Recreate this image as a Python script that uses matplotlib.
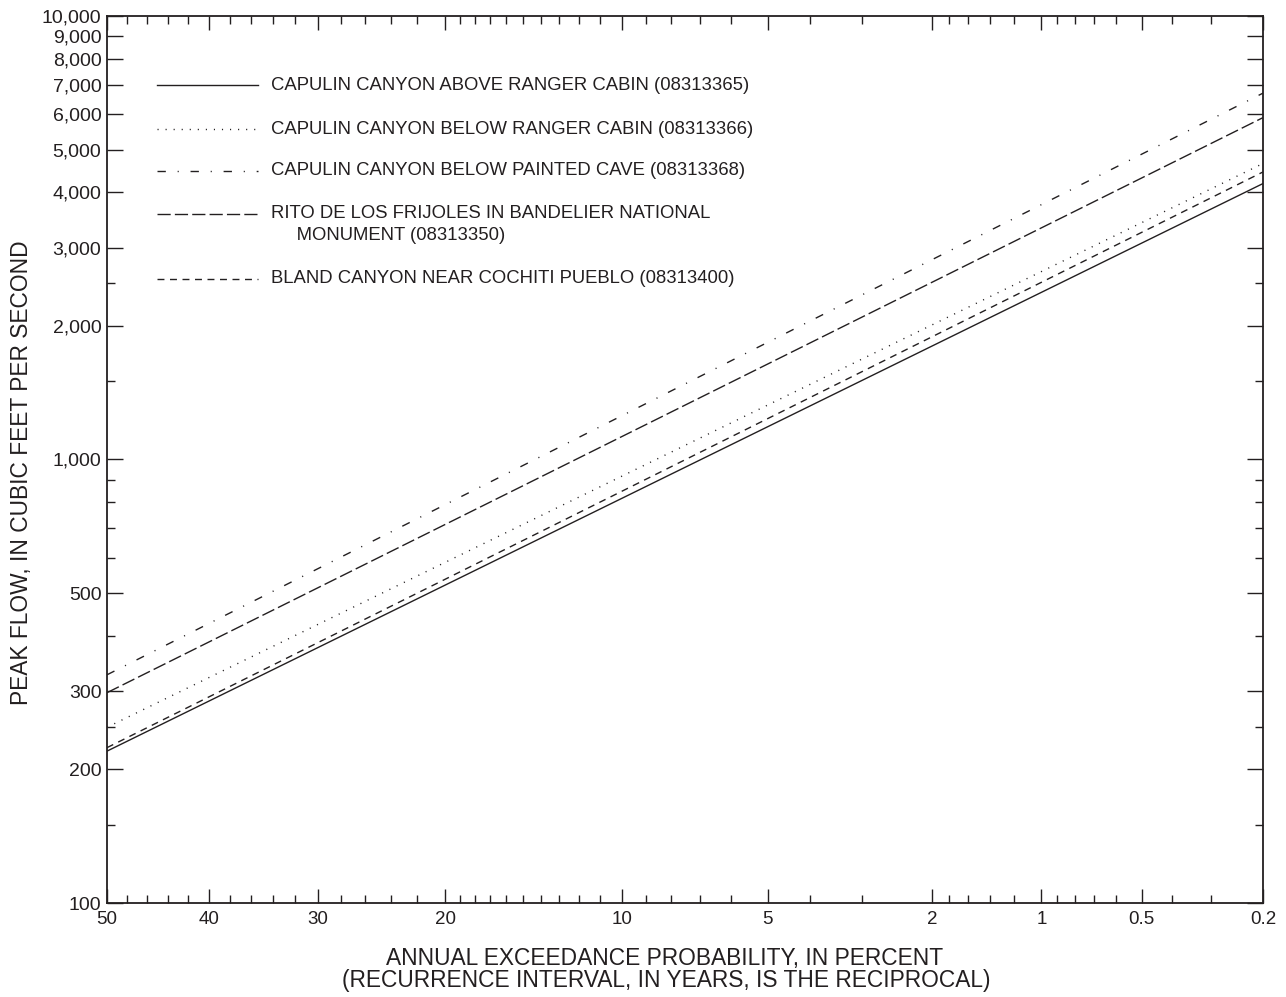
"""Peak-flow frequency curves, Capulin Canyon and nearby gages."""

from statistics import NormalDist

import matplotlib
matplotlib.use('Agg')
import matplotlib.pyplot as plt
import numpy as np

# ─── Data ─────────────────────────────────────────────────────────────────────

aep_pct = [50, 0.2]                      # annual exceedance probability, percent

q_capulin_above   = [220, 4190]          # 08313365
q_capulin_below   = [249, 4650]          # 08313366
q_painted_cave    = [327, 6700]          # 08313368
q_rito_frijoles   = [298, 5900]          # 08313350
q_bland_canyon    = [224, 4450]          # 08313400

names = [
    'CAPULIN CANYON ABOVE RANGER CABIN (08313365)',
    'CAPULIN CANYON BELOW RANGER CABIN (08313366)',
    'CAPULIN CANYON BELOW PAINTED CAVE (08313368)',
    'RITO DE LOS FRIJOLES IN BANDELIER NATIONAL\n     MONUMENT (08313350)',
    'BLAND CANYON NEAR COCHITI PUEBLO (08313400)',
]

x_major = [50, 40, 30, 20, 10, 5, 2, 1, 0.5, 0.2]
x_major_lbl = ['50', '40', '30', '20', '10', '5', '2', '1', '0.5', '0.2']
x_minor = [48, 46, 44, 42, 38, 36, 34, 32, 28, 26, 24, 22,
           19, 18, 17, 16, 15, 14, 13, 12, 11, 9, 8, 7, 6, 4, 3,
           1.8, 1.6, 1.4, 1.2, 0.9, 0.8, 0.7, 0.6, 0.4, 0.3]

y_major = [100, 200, 300, 500, 1000, 2000, 3000, 4000, 5000,
           6000, 7000, 8000, 9000, 10000]
y_minor = [150, 400, 600, 700, 800, 900, 1500]
y_short = [250, 2500]

# ─── Style ────────────────────────────────────────────────────────────────────

INK = '#231f20'
plt.rcParams['font.family'] = ['Liberation Sans', 'DejaVu Sans']

STYLES = [
    '-',
    (0, (0.8, 5.0)),
    (0, (6.0, 8.5, 0.8, 8.5)),
    (0, (9.5, 3.0)),
    (0, (5.0, 4.0)),
]


def zval(p):
    """Normal-probability position for an exceedance probability in percent."""
    nd = NormalDist()
    return np.array([nd.inv_cdf(1 - v / 100.0) for v in np.atleast_1d(p)])


fig = plt.figure(figsize=(12.86, 9.97), dpi=100)
ax = fig.add_axes([107 / 1286, 94 / 997, 1156 / 1286, 887 / 997])

series = [q_capulin_above, q_capulin_below, q_painted_cave,
          q_rito_frijoles, q_bland_canyon]
for q, ls in zip(series, STYLES):
    ax.plot(zval(aep_pct), q, color=INK, lw=1.0, ls=ls)

ax.set_yscale('log')
ax.set_xlim(zval(50)[0], zval(0.2)[0])
ax.set_ylim(100, 10000)

ax.set_xticks(zval(x_major))
ax.set_xticklabels(x_major_lbl)
ax.set_xticks(zval(x_minor), minor=True)

ax.set_yticks(y_major)
ax.set_yticklabels([f'{v:,}' for v in y_major])
ax.set_yticks(y_minor + y_short, minor=True)
ax.yaxis.set_minor_formatter(matplotlib.ticker.NullFormatter())

ax.tick_params(which='both', direction='in', top=True, right=True,
               color=INK, labelcolor=INK, width=1.0)
ax.tick_params(which='major', length=11.5)
ax.tick_params(which='minor', length=6.0)
ax.tick_params(axis='x', which='major', length=10, pad=6, labelsize=13.5)
ax.tick_params(axis='y', which='major', pad=4, labelsize=14)

# shorter ticks for 250 and 2,500
for t in ax.yaxis.get_minor_ticks():
    if t.get_loc() in y_short:
        t.tick1line.set_markersize(4)
        t.tick2line.set_markersize(4)

for sp in ax.spines.values():
    sp.set_color(INK)
    sp.set_linewidth(1.3)

# ─── Legend (drawn in axes fraction) ──────────────────────────────────────────

key_x0, key_x1, txt_x = 0.0433, 0.1306, 0.1419
rows = [0.9222, 0.8726, 0.8253, 0.7768, 0.7035]
line_gap = 0.0237
for name, ls, yr in zip(names, STYLES, rows):
    ax.plot([key_x0, key_x1], [yr, yr], transform=ax.transAxes,
            color=INK, lw=1.0, ls=ls)
    for i, part in enumerate(name.split('\n')):
        ax.text(txt_x, yr - i * line_gap, part, transform=ax.transAxes,
                fontsize=13.3, color=INK, va='center')

# ─── Axis titles ──────────────────────────────────────────────────────────────

fig.text(665 / 1286, 1 - 958 / 997, 'ANNUAL EXCEEDANCE PROBABILITY, IN PERCENT',
         ha='center', va='center', fontsize=16.4, color=INK)
fig.text(666 / 1286, 1 - 980 / 997,
         '(RECURRENCE INTERVAL, IN YEARS, IS THE RECIPROCAL)',
         ha='center', va='center', fontsize=16.4, color=INK)
fig.text(22 / 1286, 1 - 473 / 997, 'PEAK FLOW, IN CUBIC FEET PER SECOND',
         ha='center', va='center', rotation=90, fontsize=16.4, color=INK)

fig.savefig('out.png', dpi=100, facecolor='white')
